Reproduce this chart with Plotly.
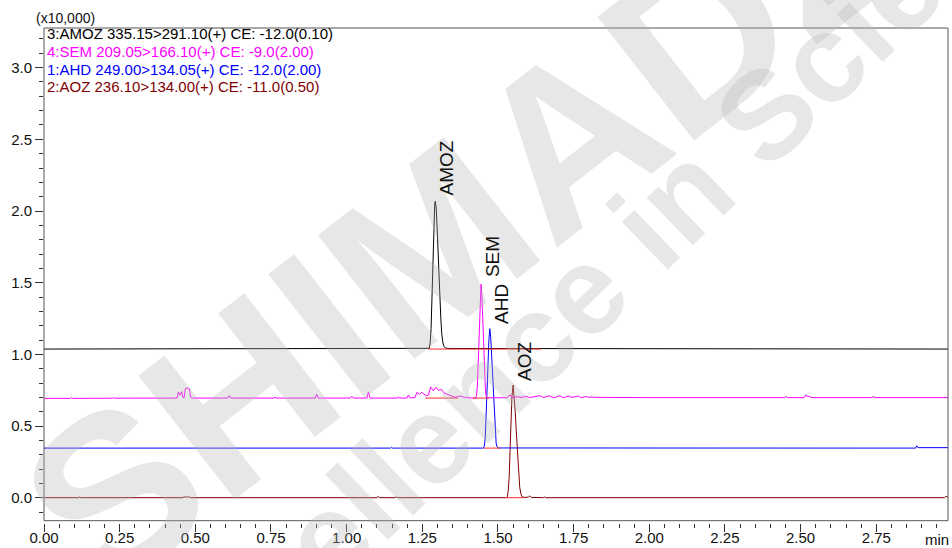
import plotly.graph_objects as go

# ---- MRM chromatogram data: retention time (min) / intensity (x10,000) ----
# 3:AMOZ 335.15>291.10
amoz_t = [0.000, 0.314, 0.318, 0.322, 0.405, 0.409, 0.413, 1.266, 1.270, 1.273, 1.276, 1.279,
          1.282, 1.285, 1.288, 1.291, 1.293, 1.296, 1.299, 1.302, 1.305, 1.308, 1.311, 1.314,
          1.318, 1.322, 1.326, 1.335, 1.345, 1.360, 1.380, 1.600, 1.620, 1.640, 2.987]
amoz_i = [1.037, 1.037, 1.040, 1.037, 1.037, 1.040, 1.037, 1.037, 1.037, 1.042, 1.080, 1.180,
          1.400, 1.700, 1.930, 2.050, 2.068, 2.020, 1.880, 1.700, 1.600, 1.420, 1.260, 1.150,
          1.080, 1.055, 1.045, 1.041, 1.041, 1.038, 1.037, 1.037, 1.039, 1.037, 1.037]

# 4:SEM 209.05>166.10
sem_t = [0.000, 0.088, 0.091, 0.094, 0.226, 0.229, 0.232, 0.440, 0.444, 0.449, 0.455, 0.459,
         0.463, 0.467, 0.475, 0.480, 0.485, 0.489, 0.607, 0.612, 0.617, 0.628, 0.631, 0.634,
         0.760, 0.763, 0.766, 0.896, 0.901, 0.906, 1.012, 1.017, 1.022, 1.067, 1.072, 1.077,
         1.146, 1.149, 1.152, 1.168, 1.171, 1.174, 1.199, 1.204, 1.209, 1.226, 1.232, 1.240,
         1.248, 1.256, 1.264, 1.270, 1.278, 1.287, 1.295, 1.303, 1.314, 1.322, 1.331, 1.342,
         1.358, 1.375, 1.390, 1.397, 1.404, 1.426, 1.429, 1.432, 1.435, 1.438, 1.441, 1.444,
         1.447, 1.450, 1.453, 1.456, 1.459, 1.462, 1.466, 1.530, 1.536, 1.540, 1.546, 1.566,
         1.573, 1.580, 1.587, 1.594, 1.602, 1.610, 1.625, 1.640, 1.648, 1.655, 1.662, 1.670,
         1.680, 1.690, 1.698, 1.705, 1.712, 1.720, 1.728, 1.735, 1.742, 1.750, 1.758, 1.765,
         1.772, 1.780, 1.790, 1.800, 1.810, 1.820, 1.985, 1.989, 1.993, 2.447, 2.452, 2.457,
         2.512, 2.518, 2.523, 2.529, 2.535, 2.733, 2.739, 2.745, 2.800, 2.805, 2.810, 2.987]
sem_i = [0.693, 0.693, 0.699, 0.693, 0.694, 0.699, 0.694, 0.695, 0.738, 0.715, 0.740, 0.700,
         0.697, 0.762, 0.765, 0.760, 0.700, 0.695, 0.695, 0.712, 0.695, 0.695, 0.700, 0.695,
         0.695, 0.702, 0.695, 0.695, 0.722, 0.695, 0.695, 0.708, 0.695, 0.695, 0.738, 0.695,
         0.695, 0.700, 0.695, 0.695, 0.704, 0.695, 0.695, 0.716, 0.697, 0.698, 0.735, 0.720,
         0.735, 0.720, 0.710, 0.715, 0.772, 0.745, 0.770, 0.750, 0.755, 0.730, 0.722, 0.710,
         0.700, 0.710, 0.698, 0.702, 0.696, 0.695, 0.710, 0.780, 0.980, 1.220, 1.420, 1.489,
         1.400, 1.200, 0.990, 0.820, 0.730, 0.705, 0.697, 0.697, 0.715, 0.718, 0.698, 0.705,
         0.699, 0.700, 0.704, 0.708, 0.700, 0.700, 0.705, 0.712, 0.700, 0.700, 0.708, 0.710,
         0.700, 0.700, 0.706, 0.712, 0.700, 0.700, 0.706, 0.710, 0.700, 0.700, 0.705, 0.710,
         0.700, 0.700, 0.706, 0.700, 0.703, 0.700, 0.698, 0.703, 0.698, 0.698, 0.706, 0.698,
         0.698, 0.718, 0.704, 0.708, 0.698, 0.698, 0.705, 0.698, 0.698, 0.702, 0.698, 0.698]

# 1:AHD 249.00>134.05
ahd_t = [0.000, 1.145, 1.148, 1.151, 1.452, 1.455, 1.458, 1.461, 1.464, 1.467, 1.470, 1.473,
         1.476, 1.479, 1.482, 1.485, 1.488, 1.491, 1.494, 1.497, 1.502, 2.880, 2.884, 2.888,
         2.987]
ahd_i = [0.346, 0.346, 0.352, 0.346, 0.346, 0.360, 0.420, 0.550, 0.720, 0.920, 1.100, 1.179,
         1.120, 1.000, 0.870, 0.750, 0.600, 0.460, 0.380, 0.355, 0.347, 0.346, 0.362, 0.349,
         0.349]

# 2:AOZ 236.10>134.00
aoz_t = [0.000, 0.115, 0.118, 0.121, 0.458, 0.463, 0.470, 0.478, 0.483, 0.612, 0.616, 0.620,
         0.700, 0.704, 0.708, 1.100, 1.104, 1.108, 1.160, 1.164, 1.168, 1.346, 1.350, 1.354,
         1.413, 1.417, 1.421, 1.466, 1.470, 1.474, 1.527, 1.531, 1.534, 1.537, 1.540, 1.543,
         1.546, 1.550, 1.554, 1.557, 1.560, 1.563, 1.566, 1.569, 1.572, 1.576, 1.580, 1.586,
         1.600, 1.605, 1.610, 1.650, 1.654, 1.658, 1.684, 1.688, 1.692, 1.838, 1.842, 1.846,
         2.366, 2.370, 2.374, 2.466, 2.470, 2.474, 2.975, 2.980, 2.987]
aoz_i = [0.000, 0.000, 0.006, 0.000, 0.000, 0.006, 0.003, 0.007, 0.000, 0.000, 0.003, 0.000,
         0.000, 0.003, 0.000, 0.000, 0.010, 0.000, 0.000, 0.005, 0.000, 0.000, 0.005, 0.000,
         0.000, 0.005, 0.000, 0.000, 0.005, 0.000, 0.000, 0.006, 0.050, 0.140, 0.330, 0.530,
         0.700, 0.786, 0.700, 0.600, 0.480, 0.380, 0.260, 0.150, 0.070, 0.025, 0.006, 0.002,
         0.004, 0.012, 0.002, 0.000, 0.005, 0.000, 0.000, 0.005, 0.000, 0.000, 0.004, 0.000,
         0.000, 0.004, 0.000, 0.000, 0.004, 0.000, 0.000, 0.010, 0.002]

# integration baselines (start, end, level) for each detected peak
base_t0 = [1.271, 1.259, 1.418, 1.452, 1.524]
base_t1 = [1.642, 1.368, 1.470, 1.507, 1.584]
base_lv = [1.037, 0.695, 0.695, 0.346, 0.000]

# channel header lines and peak names
channel_titles = ["3:AMOZ 335.15>291.10(+) CE: -12.0(0.10)",
                  "4:SEM 209.05>166.10(+) CE: -9.0(2.00)",
                  "1:AHD 249.00>134.05(+) CE: -12.0(2.00)",
                  "2:AOZ 236.10>134.00(+) CE: -11.0(0.50)"]
channel_colors = ["#000000", "#ff00ff", "#0000ff", "#800000"]
peak_names = ["AMOZ", "SEM", "AHD", "AOZ"]

x_ticks = [0.00, 0.25, 0.50, 0.75, 1.00, 1.25, 1.50, 1.75, 2.00, 2.25, 2.50, 2.75]
y_ticks = [0.0, 0.5, 1.0, 1.5, 2.0, 2.5, 3.0]

FONT = "Liberation Sans, Arial, sans-serif"
W, H = 952, 548
ML, MR, MT, MB = 44, 4, 28, 25
PW, PH = W - ML - MR, H - MT - MB


def px_x(px):
    return (px - ML) / PW


def px_y(py):
    return (H - MB - py) / PH


series = [(amoz_t, amoz_i), (sem_t, sem_i), (ahd_t, ahd_i), (aoz_t, aoz_i)]

fig = go.Figure()

# traces drawn bottom channel first so the upper ones sit on top
for k in [3, 2, 1, 0]:
    t, inten = series[k]
    fig.add_trace(go.Scatter(x=t, y=inten, mode="lines",
                             line=dict(color=channel_colors[k], width=1),
                             hoverinfo="skip", showlegend=False))

# red integration baselines
for t0, t1, lv in zip(base_t0, base_t1, base_lv):
    fig.add_trace(go.Scatter(x=[t0, t1], y=[lv, lv], mode="lines",
                             line=dict(color="#ff2a2a", width=1),
                             hoverinfo="skip", showlegend=False))

annotations = []

# faint company watermark across the plot
wm_color = "rgba(180,180,180,0.32)"
annotations.append(dict(text="<b>SHIMADZU</b>", xref="paper", yref="paper",
                        x=px_x(528), y=px_y(170),
                        xanchor="center", yanchor="middle", showarrow=False, textangle=-38,
                        font=dict(family=FONT, size=228, color=wm_color)))
annotations.append(dict(text="<b>Excellence in Science</b>", xref="paper", yref="paper",
                        x=px_x(608), y=px_y(266),
                        xanchor="center", yanchor="middle", showarrow=False, textangle=-44,
                        font=dict(family=FONT, size=125, color=wm_color)))

# channel header lines in the top-left corner
header_y = [34, 52, 69.5, 86.5]
for txt, col, yy in zip(channel_titles, channel_colors, header_y):
    annotations.append(dict(text=txt, xref="paper", yref="paper",
                            x=px_x(45), y=px_y(yy),
                            xanchor="left", yanchor="middle", showarrow=False,
                            font=dict(family=FONT, size=15, color=col)))

# peak names written vertically above each apex
label_shift = [(11.4, 4), (11.3, 5), (11.4, 3), (11.3, 2)]
for k, name in enumerate(peak_names):
    t, inten = series[k]
    j = max(range(len(inten)), key=lambda n: inten[n])
    annotations.append(dict(text=name, x=t[j], y=inten[j], xref="x", yref="y",
                            xanchor="center", yanchor="bottom", showarrow=False,
                            textangle=-90, xshift=label_shift[k][0], yshift=label_shift[k][1],
                            font=dict(family=FONT, size=19, color="#111111")))

# axis unit labels
annotations.append(dict(text="(x10,000)", xref="paper", yref="paper",
                        x=px_x(65), y=px_y(18),
                        xanchor="center", yanchor="middle", showarrow=False,
                        font=dict(family=FONT, size=14, color="#111111")))
annotations.append(dict(text="min", xref="paper", yref="paper",
                        x=px_x(937), y=px_y(539),
                        xanchor="center", yanchor="middle", showarrow=False,
                        font=dict(family=FONT, size=15, color="#111111")))

# plot frame (bottom edge sits just above the x tick marks)
shapes = [dict(type="rect", xref="paper", yref="paper", x0=0, x1=1,
               y0=2.3 / PH, y1=1, line=dict(color="#555555", width=1),
               layer="above")]

fig.update_layout(
    width=W, height=H,
    margin=dict(l=ML, r=MR, t=MT, b=MB, pad=0, autoexpand=False),
    paper_bgcolor="white", plot_bgcolor="white",
    font=dict(family=FONT, size=15, color="#111111"),
    annotations=annotations, shapes=shapes,
    xaxis=dict(range=[0, 2.987], tickmode="array", tickvals=x_ticks,
               ticktext=[f"{v:.2f}" for v in x_ticks], automargin=False,
               ticks="outside", ticklen=8, tickwidth=1, tickcolor="#333333",
               ticklabelstandoff=-7,
               minor=dict(dtick=0.05, tick0=0, ticks="outside", ticklen=4,
                          tickwidth=1, tickcolor="#333333"),
               showgrid=False, zeroline=False, showline=False,
               tickfont=dict(family=FONT, size=15, color="#111111")),
    yaxis=dict(range=[-0.1765, 3.2766], tickmode="array", tickvals=y_ticks,
               ticktext=[f"{v:.1f}" for v in y_ticks], automargin=False,
               ticks="outside", ticklen=8, tickwidth=1, tickcolor="#333333",
               minor=dict(dtick=0.1, tick0=0, ticks="outside", ticklen=4,
                          tickwidth=1, tickcolor="#333333"),
               showgrid=False, zeroline=False, showline=False,
               tickfont=dict(family=FONT, size=15, color="#111111")),
)

fig.write_html("out.html", config={"displayModeBar": False})
